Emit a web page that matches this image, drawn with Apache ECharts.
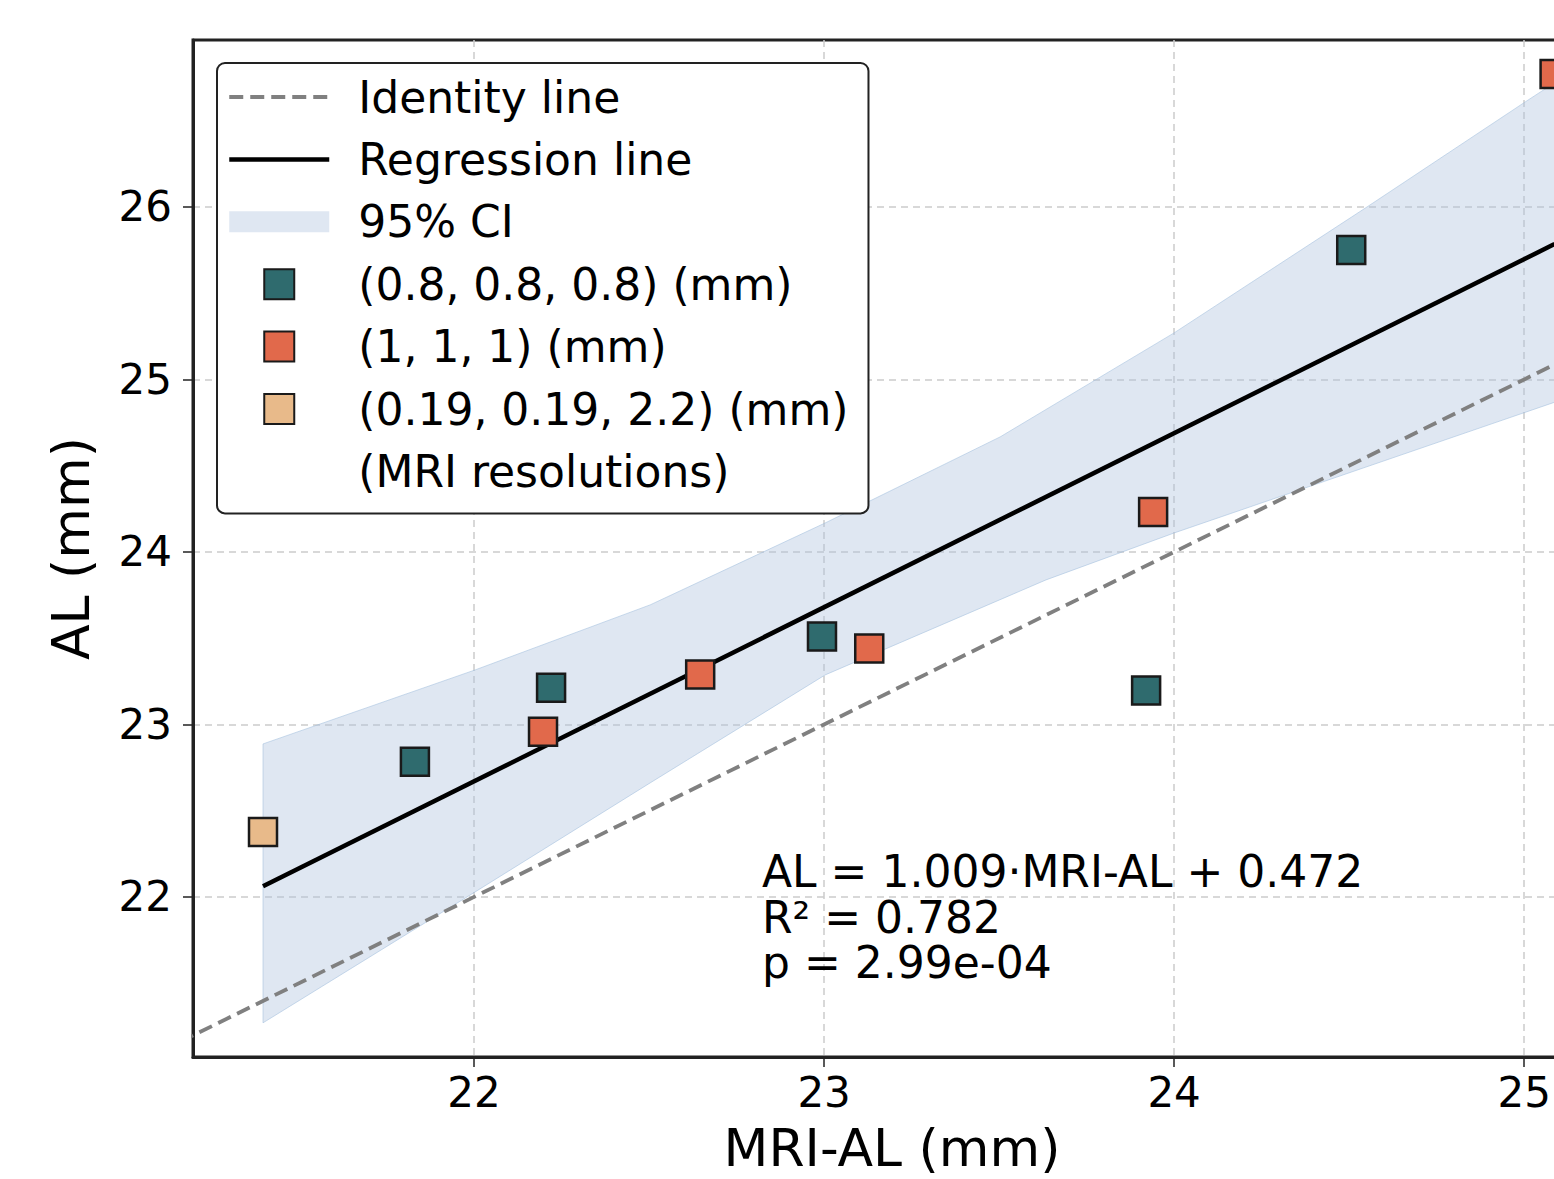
<!DOCTYPE html>
<html>
<head>
<meta charset="utf-8">
<title>AL vs MRI-AL</title>
<script src="https://cdn.jsdelivr.net/npm/echarts@6/dist/echarts.min.js"></script>
<style>
html,body{margin:0;padding:0;background:#fff;overflow:hidden;width:1554px;height:1179px;}
#chart{width:1600px;height:1179px;}
</style>
</head>
<body>
<div id="chart"></div>
<script>
// ---- axis ranges and tick labels ----
const xRange = [21.197, 25.191];
const yRange = [21.072, 26.968];
const xTicks = [22, 23, 24, 25];
const yTicks = [22, 23, 24, 25, 26];

// ---- measurements, one array pair per MRI resolution ----
const res08X = [21.831, 22.220, 22.994, 23.920, 24.506];
const res08Y = [22.783, 23.212, 23.510, 23.197, 25.751];
const res1X = [22.197, 22.646, 23.129, 23.940, 25.087];
const res1Y = [22.957, 23.290, 23.440, 24.232, 26.771];
const res019X = [21.397];
const res019Y = [22.377];

// ---- regression line and identity line end points ----
const regX = [21.397, 25.087];
const regY = [22.062, 25.785];
const identX = [21.0, 27.0];
const identY = [21.0, 27.0];

// ---- 95% confidence band edges ----
const ciUpperX = [21.397, 22.003, 22.503, 23.003, 23.503, 24.000, 24.551, 25.003, 25.087];
const ciUpperY = [22.887, 23.316, 23.693, 24.168, 24.667, 25.270, 26.000, 26.609, 26.720];
const ciLowerX = [21.397, 22.003, 22.503, 23.003, 23.634, 24.000, 25.087];
const ciLowerY = [21.270, 22.029, 22.661, 23.287, 23.838, 24.110, 24.868];

// ---- names ----
const seriesNames = ['Identity line', 'Regression line', '95% CI',
  '(0.8, 0.8, 0.8) (mm)', '(1, 1, 1) (mm)', '(0.19, 0.19, 2.2) (mm)', '(MRI resolutions)'];
const statsText = ['AL = 1.009\u00B7MRI-AL + 0.472', 'R\u00B2 = 0.782', 'p = 2.99e-04'];

const zip = (xs, ys) => xs.map((x, i) => [x, ys[i]]);
const FONT = 'DejaVu Sans';
const BAND_FILL = 'rgba(176,196,222,0.40)';
const SQUARE = 'path://M0,0H10V10H0Z';
const HIDE_SYMBOL = {opacity: 0, borderWidth: 0};

const chart = echarts.init(document.getElementById('chart'), null, {renderer: 'svg'});

const gridLine = {show: true, lineStyle: {color: '#cccccc', width: 1.5, type: [7, 5]}};

const option = {
  backgroundColor: '#ffffff',
  animation: false,
  textStyle: {fontFamily: FONT},
  grid: {
    left: 193, top: 40, right: 9, bottom: 122,
    outerBoundsMode: 'none', containLabel: false,
    show: true, borderColor: '#222222', borderWidth: 3, backgroundColor: 'transparent'
  },
  xAxis: {
    type: 'value', min: xRange[0], max: xRange[1],
    name: 'MRI-AL (mm)', nameLocation: 'middle', nameGap: 65,
    nameTextStyle: {fontFamily: FONT, fontSize: 52, color: '#000'},
    axisLine: {show: true, onZero: false, lineStyle: {color: '#222222', width: 3}},
    axisTick: {show: true, length: 10, customValues: xTicks, lineStyle: {color: '#222222', width: 1.5}},
    axisLabel: {show: true, customValues: xTicks, margin: 14, fontFamily: FONT, fontSize: 42, color: '#000'},
    splitLine: Object.assign({customValues: xTicks}, gridLine)
  },
  yAxis: {
    type: 'value', min: yRange[0], max: yRange[1],
    name: 'AL (mm)', nameLocation: 'middle', nameGap: 96, nameRotate: 90,
    nameTextStyle: {fontFamily: FONT, fontSize: 52, color: '#000'},
    axisLine: {show: true, onZero: false, lineStyle: {color: '#222222', width: 3}},
    axisTick: {show: true, length: 10, customValues: yTicks, lineStyle: {color: '#222222', width: 1.5}},
    axisLabel: {show: true, customValues: yTicks, margin: 21, fontFamily: FONT, fontSize: 42, color: '#000'},
    splitLine: Object.assign({customValues: yTicks}, gridLine)
  },
  legend: {
    orient: 'vertical', left: 217, top: 63,
    padding: [12, 20, 20, 10],
    itemWidth: 100, itemHeight: 30, itemGap: 18.4,
    backgroundColor: '#ffffff', borderColor: '#222222', borderWidth: 2, borderRadius: 8,
    selectedMode: false,
    textStyle: {fontFamily: FONT, fontSize: 44, color: '#000', lineHeight: 44, padding: [0, 0, 0, 24]},
    data: [
      {name: seriesNames[0], itemStyle: HIDE_SYMBOL, lineStyle: {width: 3.8, color: '#808080', type: [14, 7]}},
      {name: seriesNames[1], itemStyle: HIDE_SYMBOL, lineStyle: {width: 4.5, color: '#000000'}},
      {name: seriesNames[2], icon: 'path://M0,0H109V23H0Z'},
      {name: seriesNames[3], icon: SQUARE},
      {name: seriesNames[4], icon: SQUARE},
      {name: seriesNames[5], icon: SQUARE},
      {name: seriesNames[6], icon: 'none'}
    ],
    z: 20
  },
  graphic: [{
    type: 'text', left: 762, top: 849, z: 15,
    style: {text: statsText.join('\n'), fontFamily: FONT, fontSize: 44, fill: '#000', lineHeight: 45.5}
  }],
  series: [
    {
      name: seriesNames[0], type: 'line', data: zip(identX, identY), symbol: 'none', clip: true, z: 3,
      lineStyle: {color: '#808080', width: 3.8, type: [14, 7]}, itemStyle: {color: '#808080'}
    },
    {
      name: seriesNames[1], type: 'line', data: zip(regX, regY), symbol: 'none', clip: true, z: 4,
      lineStyle: {color: '#000000', width: 4.5}, itemStyle: {color: '#000000'}
    },
    {
      name: seriesNames[2], type: 'custom', clip: true, z: 2,
      data: [[ciUpperX[0], ciUpperY[0]]],
      itemStyle: {color: BAND_FILL},
      renderItem: function (params, api) {
        const pts = [];
        for (let i = 0; i < ciUpperX.length; i++) pts.push(api.coord([ciUpperX[i], ciUpperY[i]]));
        for (let i = ciLowerX.length - 1; i >= 0; i--) pts.push(api.coord([ciLowerX[i], ciLowerY[i]]));
        return {
          type: 'polygon', shape: {points: pts},
          style: {fill: BAND_FILL, stroke: 'rgba(160,190,220,0.55)', lineWidth: 1}
        };
      }
    },
    {
      name: seriesNames[3], type: 'scatter', data: zip(res08X, res08Y), symbol: 'rect', symbolSize: 28, z: 6,
      itemStyle: {color: '#2f6b6e', borderColor: '#1a1a1a', borderWidth: 2.5, opacity: 1}
    },
    {
      name: seriesNames[4], type: 'scatter', data: zip(res1X, res1Y), symbol: 'rect', symbolSize: 28, z: 6,
      itemStyle: {color: '#e1694b', borderColor: '#1a1a1a', borderWidth: 2.5, opacity: 1}
    },
    {
      name: seriesNames[5], type: 'scatter', data: zip(res019X, res019Y), symbol: 'rect', symbolSize: 28, z: 6,
      itemStyle: {color: '#e8ba8a', borderColor: '#1a1a1a', borderWidth: 2.5, opacity: 1}
    },
    {
      name: seriesNames[6], type: 'scatter', data: [], symbol: 'none',
      itemStyle: {color: 'transparent'}
    }
  ]
};
chart.setOption(option);
</script>
</body>
</html>
